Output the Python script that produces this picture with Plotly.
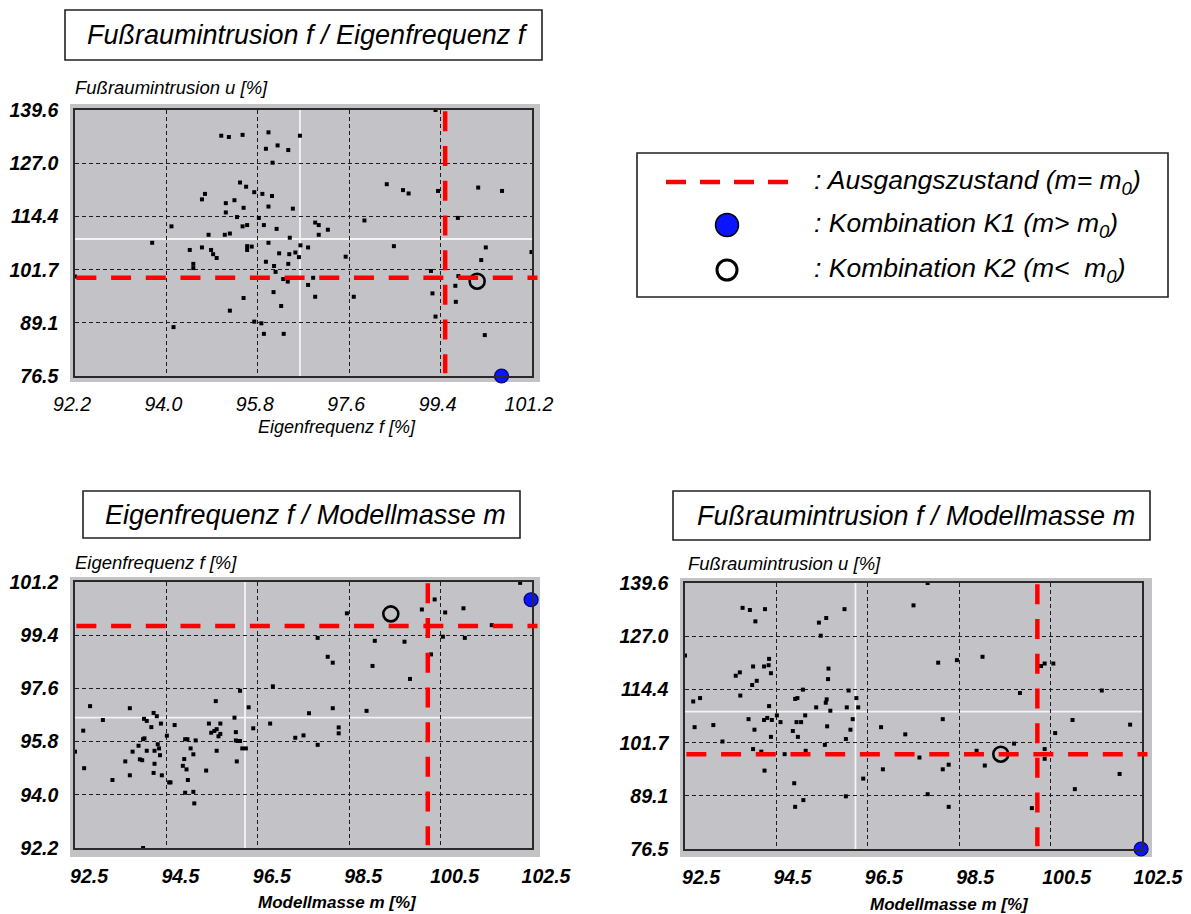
import plotly.graph_objects as go

# ---------------- data ----------------
# Panel 1: Fussraumintrusion u [%] over Eigenfrequenz f [%]
c1_freq = [92.20, 95.08, 95.23, 95.50, 96.01, 96.63, 95.96, 96.19, 96.40, 96.09,
           95.45, 95.57, 95.73, 95.89, 96.08, 94.76, 94.70, 95.17, 95.34, 95.52,
           96.01, 96.49, 95.17, 95.39, 95.82, 94.10, 94.83, 95.15, 95.25, 95.50,
           95.59, 95.92, 96.17, 93.72, 96.43, 94.46, 94.70, 94.88, 94.92, 94.99,
           95.59, 95.68, 95.59, 96.01, 96.22, 96.42, 96.54, 96.61, 96.64, 96.79,
           96.93, 97.00, 97.18, 97.00, 94.53, 94.53, 95.96, 96.12, 96.15, 96.40,
           97.53, 96.30, 96.39, 96.79, 96.89, 96.11, 95.52, 96.93, 97.69, 99.30,
           98.34, 98.66, 98.77, 99.35, 100.14, 100.61, 97.90, 99.74, 98.48, 100.29,
           100.20, 101.19, 99.21, 99.75, 99.69, 99.24, 99.70, 95.25, 95.73, 95.87,
           95.92, 96.26, 96.31, 94.14, 99.30, 100.27]
c1_intr = [100.1, 133.5, 133.2, 133.7, 134.3, 133.5, 130.4, 131.2, 130.1, 127.1,
           122.4, 121.4, 120.1, 119.7, 119.2, 119.7, 118.4, 117.5, 118.2, 116.4,
           116.7, 116.2, 115.3, 114.2, 114.0, 112.0, 110.0, 110.0, 110.3, 112.0,
           112.3, 112.3, 111.4, 108.1, 109.3, 106.4, 107.0, 106.4, 105.4, 104.5,
           107.3, 107.2, 106.4, 108.1, 105.6, 105.4, 105.8, 104.7, 107.5, 107.0,
           112.9, 112.3, 111.2, 110.0, 103.1, 102.1, 103.6, 102.6, 101.2, 103.1,
           104.8, 99.5, 98.9, 98.1, 99.8, 96.4, 95.0, 95.3, 95.3, 139.6,
           122.0, 120.6, 119.8, 120.4, 121.2, 120.4, 113.4, 114.0, 107.3, 107.0,
           104.0, 105.9, 101.4, 100.2, 97.9, 96.1, 94.1, 92.0, 89.4, 89.0,
           86.5, 93.1, 86.5, 88.1, 90.6, 86.2]

# Panel 2: Eigenfrequenz f [%] over Modellmasse m [%]
c2_mass = [101.94, 100.07, 99.79, 100.30, 100.70, 98.15, 101.32, 101.72, 97.51, 98.76,
           99.41, 100.25, 100.73, 99.99, 97.73, 97.84, 98.71, 99.53, 96.53, 95.81,
           95.28, 92.53, 93.40, 96.00, 97.84, 98.58, 97.32, 93.92, 93.99, 95.69,
           92.81, 93.71, 93.77, 93.87, 94.08, 94.38, 95.13, 95.38, 96.47, 96.10,
           97.97, 97.97, 92.38, 95.18, 95.25, 95.30, 95.34, 95.38, 95.72, 94.21,
           93.72, 93.69, 94.61, 94.66, 94.84, 95.72, 95.76, 95.81, 97.02, 97.20,
           97.51, 93.59, 94.01, 94.04, 94.73, 95.86, 95.94, 92.20, 93.46, 93.77,
           93.94, 94.06, 95.30, 94.79, 94.59, 93.62, 93.67, 93.30, 95.74, 93.94,
           94.56, 94.64, 92.40, 95.07, 93.92, 94.10, 93.40, 93.02, 94.67, 94.26,
           94.29, 94.61, 94.79, 94.81, 93.69]
c2_freq = [101.17, 100.61, 100.27, 100.17, 100.31, 100.14, 99.74, 99.71, 99.31, 99.21,
           99.18, 99.35, 99.31, 98.75, 98.67, 98.47, 98.36, 97.92, 97.67, 97.52,
           97.17, 97.00, 96.93, 96.96, 96.93, 96.84, 96.76, 96.77, 96.66, 96.61,
           96.53, 96.57, 96.50, 96.29, 96.41, 96.36, 96.41, 96.41, 96.41, 96.25,
           96.28, 96.08, 96.17, 96.10, 96.16, 96.22, 95.98, 96.06, 96.12, 96.00,
           95.91, 95.88, 95.88, 95.88, 95.84, 95.84, 95.82, 95.82, 95.93, 96.01,
           95.69, 95.66, 95.71, 95.57, 95.57, 95.57, 95.57, 95.46, 95.46, 95.49,
           95.49, 95.34, 95.49, 95.37, 95.21, 95.20, 95.17, 95.13, 95.13, 95.05,
           94.98, 94.86, 94.90, 94.82, 94.74, 94.66, 94.66, 94.50, 94.50, 94.42,
           94.42, 94.07, 94.10, 93.71, 92.20]

# Panel 3: Fussraumintrusion u [%] over Modellmasse m [%]
c3_mass = [92.20, 93.46, 93.62, 93.95, 93.74, 95.69, 95.13, 95.29, 95.17, 97.51,
           97.20, 97.74, 93.31, 93.40, 93.69, 93.93, 94.03, 94.04, 94.08, 95.34,
           95.33, 93.67, 93.77, 93.41, 92.38, 92.53, 94.04, 94.78, 94.61, 94.66,
           95.07, 95.28, 95.30, 95.38, 95.78, 95.95, 95.74, 95.99, 93.59, 93.93,
           94.00, 94.10, 94.21, 94.29, 94.64, 94.74, 94.83, 95.87, 92.41, 92.82,
           93.72, 95.31, 95.82, 94.56, 96.49, 94.08, 94.67, 97.02, 93.02, 95.26,
           95.72, 93.69, 93.87, 94.84, 94.38, 97.33, 96.53, 93.94, 96.10, 94.59,
           97.51, 95.72, 94.79, 94.61, 98.15, 98.71, 99.99, 100.07, 100.26, 99.53,
           101.32, 97.84, 100.68, 101.94, 100.30, 99.40, 98.58, 100.07, 100.07, 98.76,
           97.97, 97.84, 101.71, 100.73, 97.97, 99.79]
c3_intr = [122.4, 133.7, 133.2, 133.4, 130.5, 133.4, 130.2, 131.3, 127.1, 139.6,
           134.3, 120.7, 117.6, 118.4, 119.8, 119.8, 120.1, 121.6, 118.2, 119.3,
           116.8, 115.4, 116.4, 112.9, 111.5, 112.3, 110.4, 114.3, 112.1, 112.3,
           110.1, 111.2, 112.0, 109.3, 114.1, 112.3, 110.1, 110.1, 107.3, 107.1,
           107.6, 107.1, 108.2, 106.6, 106.6, 106.6, 108.2, 107.3, 105.4, 105.9,
           104.8, 105.6, 104.8, 104.5, 105.4, 103.1, 103.1, 103.7, 102.0, 101.2,
           102.6, 100.2, 99.6, 99.8, 99.0, 98.2, 95.4, 95.1, 93.2, 92.1,
           89.5, 89.0, 88.1, 86.5, 121.3, 122.1, 119.9, 120.5, 120.5, 113.5,
           114.1, 107.3, 107.1, 106.0, 104.0, 101.5, 99.8, 100.2, 97.9, 96.3,
           96.5, 95.4, 94.3, 90.7, 86.5, 86.2]

# Kombination K1 (m > m0) and K2 (m < m0)
k1_mass, k1_freq, k1_intr = [102.18], [100.60], [76.5]
k2_mass, k2_freq, k2_intr = [99.11], [100.12], [98.98]

# Ausgangszustand (m = m0) as drawn in each panel
base_c1_freq, base_c1_intr = 99.49, 99.8
base_c2_mass, base_c2_freq = 99.92, 99.71
base_c3_mass, base_c3_intr = 99.91, 98.96

# mean lines (white) in each panel
mean_c1_freq, mean_c1_intr = 96.63, 109.0
mean_c2_mass, mean_c2_freq = 95.92, 96.61
mean_c3_mass, mean_c3_intr = 95.93, 109.1

# axes
freq_range = [92.2, 101.2]
intr_range = [76.5, 139.6]
mass_range = [92.2, 102.2]
freq_ticks = [92.2, 94.0, 95.8, 97.6, 99.4, 101.2]
freq_labels = ["92.2", "94.0", "95.8", "97.6", "99.4", "101.2"]
intr_ticks = [76.5, 89.1, 101.7, 114.4, 127.0, 139.6]
intr_labels = ["76.5", "89.1", "101.7", "114.4", "127.0", "139.6"]
mass_ticks = [92.2, 94.2, 96.2, 98.2, 100.2, 102.2]
mass_labels = ["92.5", "94.5", "96.5", "98.5", "100.5", "102.5"]

titles = ["Fußraumintrusion f / Eigenfrequenz f",
          "Eigenfrequenz f / Modellmasse m",
          "Fußraumintrusion f / Modellmasse m"]
legend_texts = [": Ausgangszustand (m= m<sub>0</sub>)",
                ": Kombination K1 (m&gt; m<sub>0</sub>)",
                ": Kombination K2 (m&lt;&nbsp;&nbsp;m<sub>0</sub>)"]

# ---------------- layout helpers ----------------
W, H = 1191, 914
FONT = "Liberation Sans, Arial, sans-serif"


def PX(x):
    return x / W


def PY(y):
    return 1 - y / H


RED = "#ff0000"
GRAY = "#c3c3c7"

fig = go.Figure()

panels = [
    ("x", "y", c1_freq, c1_intr, k1_freq, k1_intr, k2_freq, k2_intr),
    ("x2", "y2", c2_mass, c2_freq, k1_mass, k1_freq, k2_mass, k2_freq),
    ("x3", "y3", c3_mass, c3_intr, k1_mass, k1_intr, k2_mass, k2_intr),
]
for xa, ya, xs, ys, k1x, k1y, k2x, k2y in panels:
    fig.add_trace(go.Scatter(x=xs, y=ys, mode="markers", xaxis=xa, yaxis=ya,
                             marker=dict(symbol="square", size=4, color="black"),
                             cliponaxis=False, hoverinfo="skip"))
    fig.add_trace(go.Scatter(x=k1x, y=k1y, mode="markers", xaxis=xa, yaxis=ya,
                             marker=dict(symbol="circle", size=14, color="#0a14ff",
                                         line=dict(color="#00006a", width=1.2)),
                             cliponaxis=False, hoverinfo="skip"))
    fig.add_trace(go.Scatter(x=k2x, y=k2y, mode="markers", xaxis=xa, yaxis=ya,
                             marker=dict(symbol="circle-open", size=15, color="black",
                                         line=dict(color="black", width=2.6)),
                             cliponaxis=False, hoverinfo="skip"))

# boxes: left, right, top, bottom in px
boxes = [(75, 532, 110, 376), (75, 532, 582, 848), (685, 1142, 583, 849)]

axis_common = dict(showgrid=True, gridcolor="#1c1c1c", gridwidth=1, griddash="4px,3px",
                   showline=True, mirror=True, linecolor="#2a2a2a", linewidth=1.6,
                   zeroline=False, ticks="", fixedrange=True, tickmode="array",
                   automargin=False)
yfont = dict(family=FONT, size=19.5, style="italic", weight="bold", color="black")
xfont1 = dict(family=FONT, size=19.5, style="italic", color="black")
xfont23 = dict(family=FONT, size=19.5, style="italic", weight="bold", color="black")

xaxes_cfg = [
    dict(range=freq_range, tickvals=freq_ticks, ticktext=freq_labels, tickfont=xfont1,
         ticklabelshift=-3),
    dict(range=mass_range, tickvals=mass_ticks, ticktext=mass_labels, tickfont=xfont23,
         ticklabelshift=14),
    dict(range=mass_range, tickvals=mass_ticks, ticktext=mass_labels, tickfont=xfont23,
         ticklabelshift=16),
]
yaxes_cfg = [
    dict(range=intr_range, tickvals=intr_ticks, ticktext=intr_labels),
    dict(range=freq_range, tickvals=freq_ticks, ticktext=freq_labels),
    dict(range=intr_range, tickvals=intr_ticks, ticktext=intr_labels),
]

layout_axes = {}
for i, (l, r, t, b) in enumerate(boxes):
    suffix = "" if i == 0 else str(i + 1)
    xid = "x" + suffix
    yid = "y" + suffix
    layout_axes["xaxis" + suffix] = dict(axis_common, domain=[PX(l), PX(r)], anchor=yid,
                                         ticklabelstandoff=10, **xaxes_cfg[i])
    layout_axes["yaxis" + suffix] = dict(axis_common, domain=[PY(b), PY(t)], anchor=xid,
                                         ticklabelstandoff=11, tickfont=yfont, **yaxes_cfg[i])

fig.update_layout(**layout_axes)

shapes = []
# gray backgrounds
for (l, r, t, b) in [(70, 540, 104, 382), (70, 540, 577, 857), (680, 1152, 578, 857)]:
    shapes.append(dict(type="rect", xref="paper", yref="paper", x0=PX(l), x1=PX(r),
                       y0=PY(b), y1=PY(t), fillcolor=GRAY, line=dict(width=0), layer="below"))

# white mean lines
means = [("x", "y", mean_c1_freq, mean_c1_intr),
         ("x2", "y2", mean_c2_mass, mean_c2_freq),
         ("x3", "y3", mean_c3_mass, mean_c3_intr)]
for xa, ya, mx, my in means:
    shapes.append(dict(type="line", xref=xa, yref=ya + " domain", x0=mx, x1=mx, y0=0, y1=1,
                       line=dict(color="#f4f4f4", width=1.8), layer="below"))
    shapes.append(dict(type="line", xref=xa + " domain", yref=ya, x0=0, x1=1, y0=my, y1=my,
                       line=dict(color="#f4f4f4", width=1.8), layer="below"))

# red dashed reference lines
bases = [("x", "y", base_c1_freq, base_c1_intr),
         ("x2", "y2", base_c2_mass, base_c2_freq),
         ("x3", "y3", base_c3_mass, base_c3_intr)]
red_dash = "20px,14.7px"
for xa, ya, bx, by in bases:
    shapes.append(dict(type="line", xref=xa, yref=ya + " domain", x0=bx, x1=bx, y0=0.995, y1=0.01,
                       line=dict(color=RED, width=4.5, dash=red_dash), layer="above"))
    shapes.append(dict(type="line", xref=xa + " domain", yref=ya, x0=0.003, x1=1.012, y0=by, y1=by,
                       line=dict(color=RED, width=4.5, dash=red_dash), layer="above"))

# title boxes
title_boxes = [(65, 542, 10, 60), (83, 520, 491, 538), (673, 1150, 491, 540)]
for (l, r, t, b) in title_boxes:
    shapes.append(dict(type="rect", xref="paper", yref="paper", x0=PX(l), x1=PX(r),
                       y0=PY(b), y1=PY(t), line=dict(color="#222222", width=1.6),
                       fillcolor="white", layer="below"))

# legend box and symbols
shapes.append(dict(type="rect", xref="paper", yref="paper", x0=PX(637), x1=PX(1168),
                   y0=PY(297), y1=PY(153), line=dict(color="#222222", width=1.6), layer="above"))
shapes.append(dict(type="line", xref="paper", yref="paper", x0=PX(666), x1=PX(790),
                   y0=PY(182), y1=PY(182), line=dict(color=RED, width=4.5, dash="20px,14px")))
shapes.append(dict(type="circle", xref="paper", yref="paper", x0=PX(715.5), x1=PX(738.5),
                   y0=PY(236.5), y1=PY(213.5), fillcolor="#0a14ff",
                   line=dict(color="#000000", width=1.5)))
shapes.append(dict(type="circle", xref="paper", yref="paper", x0=PX(717), x1=PX(737),
                   y0=PY(280), y1=PY(260), fillcolor="white",
                   line=dict(color="#000000", width=3)))

fig.update_layout(shapes=shapes)

ann = []
title_font = dict(family=FONT, size=27, style="italic", color="black")
for txt, (l, r, t, b) in zip(titles, title_boxes):
    ann.append(dict(text=txt, xref="paper", yref="paper", x=PX((l + r) / 2 + 4),
                    y=PY((t + b) / 2), xanchor="center", yanchor="middle",
                    showarrow=False, font=title_font))

ytitle_font = dict(family=FONT, size=18.5, style="italic", color="black")
for txt, (x, y) in [("Fußraumintrusion u [%]", (73, 87)),
                    ("Eigenfrequenz f [%]", (73, 562)),
                    ("Fußraumintrusion u [%]", (686, 563))]:
    ann.append(dict(text=txt, xref="paper", yref="paper", x=PX(x), y=PY(y),
                    xanchor="left", yanchor="middle", showarrow=False, font=ytitle_font))

for txt, (x, y), w in [("Eigenfrequenz f [%]", (337, 427), "normal"),
                       ("Modellmasse m [%]", (337, 902), "bold"),
                       ("Modellmasse m [%]", (949, 904), "bold")]:
    ann.append(dict(text=txt, xref="paper", yref="paper", x=PX(x), y=PY(y),
                    xanchor="center", yanchor="middle", showarrow=False,
                    font=dict(family=FONT, size=18 if w == "normal" else 17,
                              style="italic", weight=w, color="black")))

legend_font = dict(family=FONT, size=26.5, style="italic", color="black")
for txt, y in zip(legend_texts, [182, 225, 270]):
    ann.append(dict(text=txt, xref="paper", yref="paper", x=PX(812), y=PY(y),
                    xanchor="left", yanchor="middle", showarrow=False, font=legend_font))

fig.update_layout(annotations=ann, width=W, height=H,
                  margin=dict(l=0, r=0, t=0, b=0, pad=0, autoexpand=False),
                  paper_bgcolor="white", plot_bgcolor="rgba(0,0,0,0)",
                  showlegend=False, font=dict(family=FONT, color="black"))

fig.write_html("out.html", post_script="document.body.style.margin='0';",
               config={"displayModeBar": False})
